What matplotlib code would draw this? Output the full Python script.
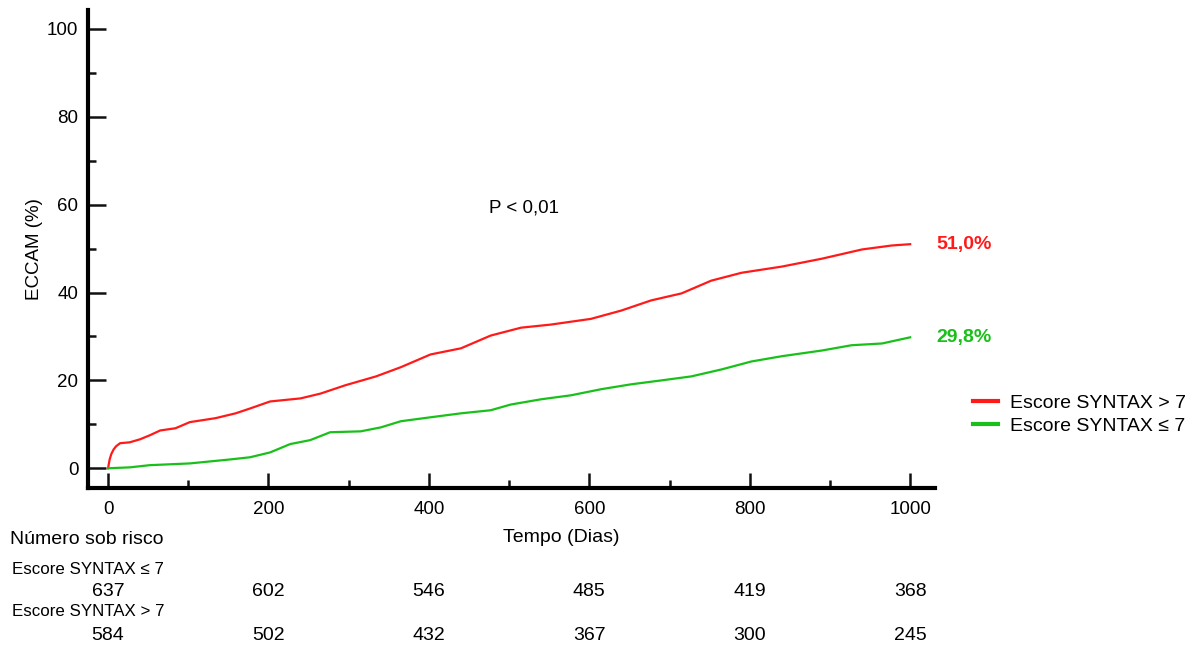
import numpy as np
import matplotlib.pyplot as plt

plt.rcParams['font.family'] = ['Liberation Sans', 'DejaVu Sans']

# ---- data ----
days_hi = [0, 2, 4, 7, 10, 15, 27, 40, 52, 65, 84, 102, 134, 159, 177, 202, 240, 265,
           296, 334, 365, 402, 440, 477, 515, 552, 602, 640, 677, 715, 752, 790,
           840, 890, 940, 977, 1000]
eccam_hi = [0, 2.0, 3.2, 4.3, 5.0, 5.7, 5.9, 6.6, 7.5, 8.6, 9.1, 10.5, 11.4, 12.5, 13.6,
            15.2, 15.9, 17.0, 18.9, 20.9, 23.0, 25.9, 27.3, 30.2, 32.0, 32.7, 34.0,
            35.9, 38.2, 39.8, 42.7, 44.5, 45.9, 47.7, 49.8, 50.7, 51.0]

days_lo = [0, 27, 52, 102, 152, 177, 202, 227, 252, 277, 315, 340, 365, 402, 440,
           477, 502, 540, 577, 615, 652, 690, 727, 765, 802, 840, 890, 927, 965, 1000]
eccam_lo = [0, 0.2, 0.7, 1.1, 2.0, 2.5, 3.6, 5.5, 6.4, 8.2, 8.4, 9.3, 10.7, 11.6,
            12.5, 13.2, 14.5, 15.7, 16.6, 18.0, 19.1, 20.0, 20.9, 22.5, 24.3, 25.5,
            26.8, 28.0, 28.4, 29.8]

label_hi = 'Escore SYNTAX > 7'
label_lo = 'Escore SYNTAX ≤ 7'
final_hi = '51,0%'
final_lo = '29,8%'

risk_days = [0, 200, 400, 600, 800, 1000]
risk_lo = [637, 602, 546, 485, 419, 368]
risk_hi = [584, 502, 432, 367, 300, 245]

red = '#ff1a1a'
green = '#19c019'

fig = plt.figure(figsize=(12.02, 6.5), dpi=100)
ax = fig.add_axes([0.0732, 0.2492, 0.7047, 0.7354])

ax.plot(days_hi, eccam_hi, color=red, lw=1.6, label=label_hi)
ax.plot(days_lo, eccam_lo, color=green, lw=1.6, label=label_lo)

ax.set_xlim(-25, 1031)
ax.set_ylim(-4.5, 104.3)

for s in ['top', 'right']:
    ax.spines[s].set_visible(False)
for s in ['left', 'bottom']:
    ax.spines[s].set_linewidth(3)

ax.set_xticks(np.arange(0, 1001, 200))
ax.set_xticks(np.arange(100, 1000, 200), minor=True)
ax.set_yticks(np.arange(0, 101, 20))
ax.set_yticks(np.arange(10, 100, 20), minor=True)
ax.tick_params(which='both', direction='in', width=1.8, labelsize=13.5, color='#111111')
ax.tick_params(axis='y', which='major', length=13, pad=7)
ax.tick_params(axis='x', which='major', length=11, pad=9)
ax.tick_params(which='minor', length=6)

ax.set_ylabel('ECCAM (%)', fontsize=13.5, labelpad=3)
ax.text(519, 59.3, 'P < 0,01', fontsize=13.5, ha='center', va='center')

ax.text(1033, eccam_hi[-1], final_hi, color=red, fontsize=14, fontweight='bold',
        va='center', ha='left', clip_on=False)
ax.text(1033, eccam_lo[-1], final_lo, color=green, fontsize=14, fontweight='bold',
        va='center', ha='left', clip_on=False)

leg = ax.legend(loc='center left', bbox_to_anchor=(0.8015, 0.362), bbox_transform=fig.transFigure,
                frameon=False, fontsize=14, handlelength=1.3, handletextpad=0.6,
                labelspacing=0.3, borderpad=0)
for h in leg.get_lines():
    h.set_linewidth(3)

# x label and risk table
fig.text(561 / 1202, 1 - 537 / 650, 'Tempo (Dias)', fontsize=14, ha='center', va='center')
fig.text(10 / 1202, 1 - 539 / 650, 'Número sob risco', fontsize=14, ha='left', va='center')
fig.text(12 / 1202, 1 - 569 / 650, label_lo, fontsize=12.2, ha='left', va='center')
fig.text(12 / 1202, 1 - 612 / 650, label_hi, fontsize=12.2, ha='left', va='center')

for d, n1, n2 in zip(risk_days, risk_lo, risk_hi):
    xf = fig.transFigure.inverted().transform(ax.transData.transform((d, 0)))[0]
    fig.text(xf, 1 - 592 / 650, str(n1), fontsize=14, ha='center', va='center')
    fig.text(xf, 1 - 635 / 650, str(n2), fontsize=14, ha='center', va='center')

fig.savefig('out.png', dpi=100, facecolor='white')
